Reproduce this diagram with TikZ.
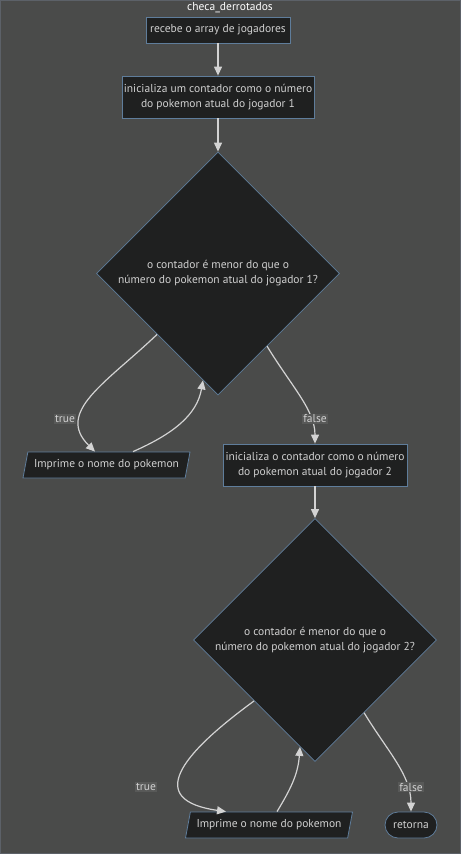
\documentclass[tikz,border=0pt]{standalone}
\usepackage{fontspec}
\setmainfont{PT Sans}
\usetikzlibrary{shapes.geometric,arrows.meta}
\definecolor{fundo}{HTML}{4A4B4A}
\definecolor{preenche}{HTML}{1F2020}
\definecolor{borda}{HTML}{5F7D9B}
\definecolor{texto}{HTML}{D0D0D0}
\definecolor{linha}{HTML}{D3D3D3}
\definecolor{rotulobg}{HTML}{585958}
\definecolor{moldura}{HTML}{5C6168}

\begin{document}
\begin{tikzpicture}[x=1pt,y=-1pt,
  font=\fontsize{11.5}{15}\selectfont,
  processo/.style={draw=borda, fill=preenche, text=texto, line width=0.8pt, align=center, inner sep=0pt},
  decisao/.style={diamond, aspect=1, draw=borda, fill=preenche, text=texto, line width=0.8pt,
    align=center, inner sep=0pt, minimum width=243pt, minimum height=243pt},
  entrada/.style={trapezium, trapezium left angle=65, trapezium right angle=115,
    trapezium stretches body, draw=borda, fill=preenche, text=texto, line width=0.8pt,
    inner sep=0pt, minimum width=167pt, minimum height=26pt},
  terminal/.style={processo, rounded corners=13pt, minimum width=52pt, minimum height=26pt},
  rotulo/.style={fill=rotulobg, text=texto, inner sep=1pt},
  fluxo/.style={draw=linha, line width=1.2pt, -{Triangle[length=9pt,width=8pt]}}
]
\useasboundingbox (0,0) rectangle (461,854);
% draw background and frame
\fill[fundo] (0,0) rectangle (461,854);
\draw[moldura, line width=1pt] (0.5,0.5) rectangle (460.5,853.5);
\node[text=white] (titulo) at (230,8) {checa\_derrotados};

% draw nodes of the flow
\node[processo, minimum width=144pt, minimum height=26pt] (recebe) at (218,30) {recebe o array de jogadores};
\node[processo, minimum width=192pt, minimum height=42pt] (inicia1) at (218,97) {
  inicializa um contador como o número \\
  do pokemon atual do jogador 1
};
\node[decisao] (cond1) at (218,273.5) {
  o contador é menor do que o \\
  número do pokemon atual do jogador 1?
};
\node[entrada] (imprime1) at (106.5,465) {Imprime o nome do pokemon};
\node[processo, minimum width=184pt, minimum height=42pt] (inicia2) at (315,465) {
  inicializa o contador como o número \\
  do pokemon atual do jogador 2
};
\node[decisao] (cond2) at (315,640) {
  o contador é menor do que o \\
  número do pokemon atual do jogador 2?
};
\node[entrada] (imprime2) at (269,825) {Imprime o nome do pokemon};
\node[terminal] (retorna) at (411,825) {retorna};

% draw arrows
\draw[fluxo] (recebe.south) -- (inicia1.north);
\draw[fluxo] (inicia1.south) -- (cond1.north);
\draw[fluxo] (cond1.south west) .. controls (106,383) and (55,412) .. ([xshift=-11.5pt]imprime1.north);
\draw[fluxo] ([xshift=26.5pt]imprime1.north) .. controls (173,434) and (197,415) .. (cond1.-98);
\draw[fluxo] (cond1.-56) .. controls (292,387) and (315,410) .. (inicia2.north);
\draw[fluxo] (inicia2.south) -- (cond2.north);
\draw[fluxo] (cond2.south west) .. controls (180,755) and (145,800) .. ([xshift=-43pt]imprime2.north);
\draw[fluxo] ([xshift=8pt]imprime2.north) .. controls (290,790) and (298,775) .. (cond2.-98);
\draw[fluxo] (cond2.-56) .. controls (388,752) and (411,775) .. (retorna.north);

% draw labels of the arrows
\node[rotulo] (sim1) at (65,419) {true};
\node[rotulo] (nao1) at (315,419) {false};
\node[rotulo] (sim2) at (146,787) {true};
\node[rotulo] (nao2) at (411,787) {false};
\end{tikzpicture}
\end{document}
